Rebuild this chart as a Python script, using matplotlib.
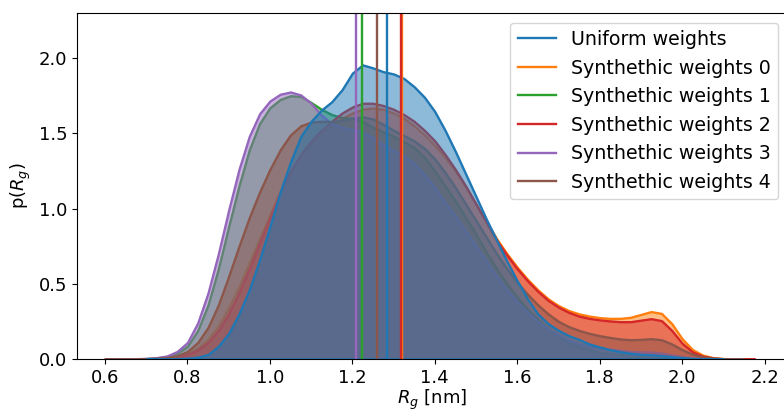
import numpy as np
import matplotlib
matplotlib.use("Agg")
import matplotlib.pyplot as plt
from matplotlib.colors import to_rgba
from matplotlib.lines import Line2D

# Evaluation grid of the density estimates (nm)
rg_grid = np.round(np.arange(0.600, 2.1751, 0.025), 3)

# Kernel density of the radius of gyration for each weighting scheme
dens_uniform = [0, 0, 0, 0, 0.000, 0.001, 0.001, 0.003, 0.005, 0.012,
                0.03, 0.085, 0.17, 0.30, 0.46, 0.66, 0.88, 1.11, 1.31, 1.48,
                1.58, 1.655, 1.71, 1.79, 1.90, 1.955, 1.935, 1.91, 1.895, 1.865,
                1.81, 1.74, 1.645, 1.52, 1.38, 1.23, 1.08, 0.93, 0.79, 0.65,
                0.52, 0.40, 0.30, 0.235, 0.19, 0.155, 0.13, 0.10, 0.08, 0.062,
                0.048, 0.038, 0.031, 0.028, 0.023, 0.015, 0.009, 0.004, 0.002, 0.001,
                0, 0, 0, 0]
dens_synth0 = [0, 0, 0, 0.001, 0.002, 0.004, 0.008, 0.017, 0.036, 0.072,
               0.13, 0.22, 0.34, 0.48, 0.64, 0.80, 0.96, 1.115, 1.245, 1.345,
               1.43, 1.50, 1.555, 1.60, 1.635, 1.66, 1.668, 1.66, 1.635, 1.60,
               1.55, 1.49, 1.42, 1.34, 1.25, 1.145, 1.03, 0.915, 0.80, 0.70,
               0.61, 0.53, 0.46, 0.40, 0.355, 0.322, 0.30, 0.285, 0.275, 0.27,
               0.27, 0.277, 0.296, 0.315, 0.303, 0.235, 0.135, 0.063, 0.026, 0.009,
               0.003, 0.001, 0, 0]
dens_synth1 = [0, 0, 0.001, 0.001, 0.003, 0.007, 0.016, 0.038, 0.085, 0.19,
               0.36, 0.60, 0.88, 1.15, 1.39, 1.565, 1.67, 1.725, 1.75, 1.745,
               1.705, 1.66, 1.625, 1.605, 1.60, 1.58, 1.54, 1.51, 1.48, 1.445,
               1.405, 1.34, 1.25, 1.15, 1.05, 0.94, 0.83, 0.71, 0.60, 0.50,
               0.41, 0.33, 0.26, 0.20, 0.15, 0.11, 0.08, 0.06, 0.045, 0.035,
               0.027, 0.021, 0.017, 0.014, 0.011, 0.007, 0.004, 0.002, 0.001, 0,
               0, 0, 0, 0]
dens_synth2 = [0, 0, 0, 0.001, 0.001, 0.003, 0.006, 0.013, 0.028, 0.06,
               0.11, 0.19, 0.30, 0.44, 0.60, 0.77, 0.94, 1.11, 1.25, 1.36,
               1.45, 1.52, 1.58, 1.635, 1.675, 1.70, 1.70, 1.685, 1.66, 1.625,
               1.58, 1.52, 1.45, 1.36, 1.26, 1.15, 1.03, 0.91, 0.79, 0.69,
               0.60, 0.52, 0.45, 0.39, 0.345, 0.31, 0.285, 0.27, 0.26, 0.253,
               0.248, 0.248, 0.258, 0.268, 0.255, 0.19, 0.105, 0.048, 0.019, 0.007,
               0.002, 0.001, 0, 0]
dens_synth3 = [0, 0, 0.001, 0.002, 0.004, 0.009, 0.02, 0.05, 0.11, 0.24,
               0.44, 0.70, 0.99, 1.26, 1.48, 1.63, 1.715, 1.76, 1.775, 1.755,
               1.70, 1.62, 1.565, 1.54, 1.525, 1.505, 1.47, 1.425, 1.385, 1.35,
               1.30, 1.225, 1.14, 1.04, 0.95, 0.85, 0.75, 0.65, 0.55, 0.46,
               0.38, 0.31, 0.25, 0.20, 0.16, 0.125, 0.10, 0.085, 0.075, 0.065,
               0.057, 0.05, 0.047, 0.046, 0.04, 0.027, 0.015, 0.007, 0.003, 0.001,
               0, 0, 0, 0]
dens_synth4 = [0, 0, 0, 0.001, 0.002, 0.005, 0.01, 0.022, 0.05, 0.11,
               0.21, 0.36, 0.55, 0.75, 0.94, 1.11, 1.26, 1.39, 1.49, 1.55,
               1.575, 1.58, 1.578, 1.585, 1.60, 1.61, 1.595, 1.56, 1.52, 1.485,
               1.45, 1.40, 1.33, 1.24, 1.14, 1.03, 0.92, 0.81, 0.70, 0.60,
               0.51, 0.43, 0.36, 0.30, 0.25, 0.215, 0.19, 0.17, 0.155, 0.143,
               0.133, 0.128, 0.13, 0.135, 0.128, 0.10, 0.062, 0.032, 0.014, 0.005,
               0.002, 0.001, 0, 0]

# Support (nm) over which each density estimate was evaluated
support_lo = [0.700, 0.625, 0.650, 0.600, 0.625, 0.600]
support_hi = [2.100, 2.175, 2.100, 2.175, 2.125, 2.150]

labels = ["Uniform weights", "Synthethic weights 0", "Synthethic weights 1",
          "Synthethic weights 2", "Synthethic weights 3", "Synthethic weights 4"]
colors = ["C0", "C1", "C2", "C3", "C4", "C5"]
densities = [dens_uniform, dens_synth0, dens_synth1, dens_synth2,
             dens_synth3, dens_synth4]
# Weighted mean radius of gyration per scheme (nm)
mean_rg = [1.283, 1.320, 1.223, 1.317, 1.209, 1.259]

LW = 1.7

fig = plt.figure(figsize=(7.84, 4.12), dpi=100)
ax = fig.add_axes([77 / 784, 53 / 412, 711 / 784, 346 / 412])


def draw_density(i):
    dens = np.asarray(densities[i])
    keep = (rg_grid >= support_lo[i] - 1e-9) & (rg_grid <= support_hi[i] + 1e-9)
    ax.fill_between(rg_grid[keep], 0, dens[keep],
                    facecolor=to_rgba(colors[i], 0.5),
                    edgecolor=to_rgba(colors[i], 1.0), linewidth=LW)


# synthetic weights first, then their means, then the uniform reference on top
for i in range(1, 6):
    draw_density(i)
for i in range(1, 6):
    ax.axvline(mean_rg[i], color=colors[i], linewidth=LW)
draw_density(0)
ax.axvline(mean_rg[0], color=colors[0], linewidth=LW)

ax.set_xlim(0.532, 2.257)
ax.set_ylim(0, 2.3)
ax.set_xticks(np.arange(0.6, 2.21, 0.2))
ax.set_yticks(np.arange(0.0, 2.01, 0.5))
ax.tick_params(labelsize=13)
ax.spines["right"].set_visible(False)
ax.set_xlabel(r"$R_g$ [nm]", fontsize=13, labelpad=1)
ax.set_ylabel(r"p($R_g$)", fontsize=13)

handles = [Line2D([], [], color=c, linewidth=LW) for c in colors]
ax.legend(handles, labels, loc="upper right", fontsize=13.7)

fig.savefig("out.png", dpi=100)
